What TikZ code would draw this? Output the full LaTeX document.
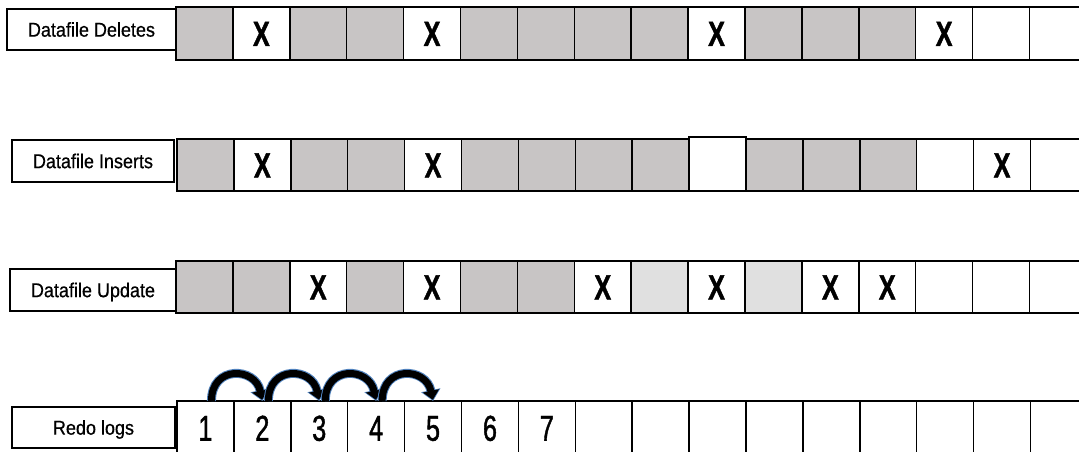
\documentclass[tikz,border=0pt]{standalone}
\usepackage{fontspec}
\setmainfont{Liberation Sans}
\newfontfamily\lfont[FakeStretch=0.9,FakeBold=0.6]{Liberation Sans}
\newfontfamily\xfont[FakeStretch=0.72,FakeBold=1.2]{Liberation Sans}
\newfontfamily\nfont[FakeStretch=0.7,FakeBold=1.2]{Liberation Sans}
\usetikzlibrary{arrows.meta,calc}
\definecolor{cgray}{HTML}{C8C5C5}
\definecolor{clight}{HTML}{E0E0E0}
\definecolor{cblue}{HTML}{4F81BD}
\begin{document}
\begin{tikzpicture}[x=1pt,y=-1pt,
  cellbase/.style={draw=black, line width=1.5pt, rectangle, inner sep=0pt, outer sep=0pt, minimum width=56.9pt},
  cellg/.style={cellbase, fill=cgray},
  celll/.style={cellbase, fill=clight},
  cellw/.style={cellbase, fill=white},
  cellW/.style={cellbase, fill=white, minimum height=54pt},
  cellX/.style={cellbase, fill=white, label={[xmark]center:X}},
  xmark/.style={inner sep=0pt, font=\xfont\bfseries\fontsize{35}{40}\selectfont, text height=25pt, text depth=0pt},
  numtext/.style={inner sep=0pt, font=\nfont\fontsize{36}{40}\selectfont, text height=25.5pt, text depth=0pt},
  lbl/.style={draw=black, line width=1.5pt, anchor=north west, inner sep=0pt, outer sep=0pt,
    font=\lfont\fontsize{20}{22}\selectfont, text height=14.3pt, text depth=0pt},
  arcb/.style={draw=cblue, line width=9pt, -{Triangle[length=11pt,width=19pt]}},
  arck/.style={draw=black, line width=7pt, -{Triangle[length=9pt,width=16pt]}, shorten >=1.3pt}
]
\useasboundingbox (0,0) rectangle (1079,452);
\clip (0,0) rectangle (1079,452);

% Row 1: Datafile Deletes
\foreach \t [count=\i from 0] in {g,X,g,g,X,g,g,g,g,X,g,g,g,X,w,w}
  \node[minimum height=53pt, cell\t, anchor=south west] (d\i) at ({176+56.9*\i},60) {};
\node[lbl, minimum width=169pt, minimum height=41pt] (ldel) at (7,9) {Datafile Deletes};

% Row 2: Datafile Inserts
\foreach \t [count=\i from 0] in {g,X,g,g,X,g,g,g,g,W,g,g,g,w,X,w}
  \node[minimum height=52pt, cell\t, anchor=south west] (i\i) at ({177+56.9*\i},191) {};
\node[lbl, minimum width=162pt, minimum height=42pt] (lins) at (12,140) {Datafile Inserts};

% Row 3: Datafile Update
\foreach \t [count=\i from 0] in {g,g,X,g,X,g,g,X,l,X,l,X,X,w,w,w}
  \node[minimum height=52pt, cell\t, anchor=south west] (u\i) at ({176+56.9*\i},313) {};
\node[lbl, minimum width=166pt, minimum height=42pt] (lupd) at (10,269) {Datafile Update};

% Row 4: Redo logs
\foreach \i in {0,...,15}
  \node[cellw, minimum height=62pt, anchor=north west] (r\i) at ({177+56.9*\i},401) {};
\node[lbl, minimum width=163pt, minimum height=41pt] (lredo) at (12,407) {Redo logs};
\foreach \i [evaluate=\i as \j using int(\i-1)] in {1,...,7}
  \node[numtext] (n\i) at ($(r\j.center)+(0,-4)$) {\i};

% Arcs between redo log entries
\foreach \a [evaluate=\a as \b using int(\a+1)] in {0,1,2,3} {
  \draw[arcb] ([xshift=6pt]r\a.north) .. controls +(0,-36) and +(-7,-34) .. (r\b.north);
  \draw[arck] ([xshift=6pt]r\a.north) .. controls +(0,-36) and +(-7,-34) .. (r\b.north);
}
\end{tikzpicture}
\end{document}
